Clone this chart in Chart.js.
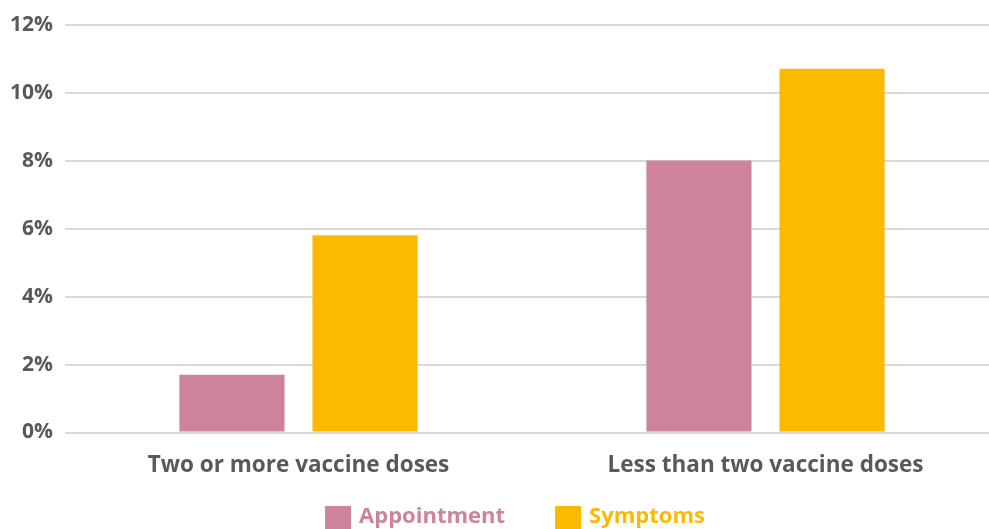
<!DOCTYPE html>
<html>
<head>
<meta charset="utf-8">
<script src="https://cdn.jsdelivr.net/npm/chart.js@4.4.1/dist/chart.umd.min.js"></script>
<style>
  html, body { margin: 0; padding: 0; background: #ffffff; overflow: hidden; width: 989px; height: 529px; }
  #wrap { position: absolute; left: 0; top: 0; width: 999px; height: 529px; }
</style>
</head>
<body>
<div id="wrap"><canvas id="chart"></canvas></div>
<script>
// Share of people in each vaccination group, by reason
const categories = ['Two or more vaccine doses', 'Less than two vaccine doses'];
const appointment = [1.7, 8.0];
const symptoms = [5.8, 10.7];
const yTicks = [0, 2, 4, 6, 8, 10, 12];

const PINK = '#CD8399';
const GOLD = '#FBB900';
const TEXT = '#595959';
const FONT = '"Open Sans", "Noto Sans", sans-serif';

// Legend row below the axis: coloured square followed by the series name in the same colour
const seriesLegend = {
  id: 'seriesLegend',
  afterDraw(chart) {
    const ctx = chart.ctx;
    const box = 26, boxH = 23, gap = 8, spacing = 50;
    const top = 506, mid = 517, centerX = 515;
    ctx.save();
    ctx.font = 'bold 22px ' + FONT;
    const items = chart.data.datasets.map(ds => ({
      text: ds.label, color: ds.backgroundColor, w: ctx.measureText(ds.label).width
    }));
    const total = items.reduce((s, it) => s + box + gap + it.w, 0) + spacing * (items.length - 1);
    let x = centerX - total / 2;
    ctx.textBaseline = 'middle';
    ctx.textAlign = 'left';
    items.forEach(it => {
      ctx.fillStyle = it.color;
      ctx.fillRect(x, top, box, boxH);
      ctx.fillText(it.text, x + box + gap, mid);
      x += box + gap + it.w + spacing;
    });
    ctx.restore();
  }
};

new Chart(document.getElementById('chart'), {
  type: 'bar',
  data: {
    labels: categories,
    datasets: [
      { label: 'Appointment', data: appointment, backgroundColor: PINK,
        categoryPercentage: 0.57, barPercentage: 0.79 },
      { label: 'Symptoms', data: symptoms, backgroundColor: GOLD,
        categoryPercentage: 0.57, barPercentage: 0.79 }
    ]
  },
  plugins: [seriesLegend],
  options: {
    responsive: true,
    maintainAspectRatio: false,
    animation: false,
    layout: { padding: { top: 19, left: 0, right: 0, bottom: 38.5 } },
    plugins: {
      tooltip: { enabled: false },
      legend: { display: false }
    },
    scales: {
      x: {
        grid: { display: false },
        border: { display: false },
        ticks: { color: TEXT, padding: 11.5, font: { family: FONT, size: 22.5, weight: 'bold' } }
      },
      y: {
        min: 0,
        max: 12,
        afterBuildTicks(axis) { axis.ticks = yTicks.map(v => ({ value: v })); },
        afterFit(scale) { scale.width = 65; },
        grid: { color: '#d9d9d9', lineWidth: 2, drawTicks: false },
        border: { display: false },
        ticks: {
          color: TEXT,
          padding: 12,
          font: { family: FONT, size: 21, weight: 'bold' },
          callback: v => v + '%'
        }
      }
    }
  }
});
</script>
</body>
</html>
